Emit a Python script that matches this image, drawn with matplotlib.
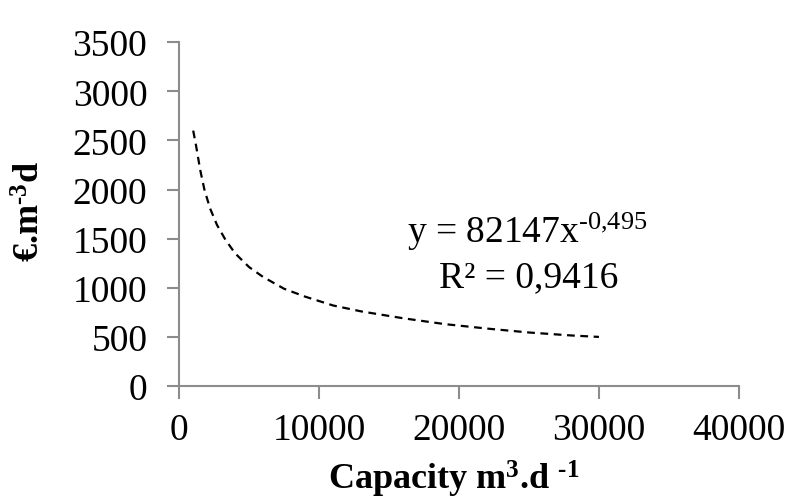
import matplotlib
matplotlib.use("Agg")
import matplotlib.pyplot as plt

plt.rcParams['font.family'] = ['Liberation Serif', 'DejaVu Serif']
plt.rcParams['mathtext.fontset'] = 'custom'
plt.rcParams['mathtext.rm'] = 'Liberation Serif'
plt.rcParams['mathtext.it'] = 'Liberation Serif'
plt.rcParams['mathtext.bf'] = 'Liberation Serif:bold'

# Trend-line values
capacity = [1000, 1200, 1500, 1800, 2200, 2700, 3300, 4000, 5000, 6000, 7500,
            9000, 11000, 13000, 16000, 19000, 22000, 25000, 28000, 30000]
cost = [2600, 2450, 2200, 2000, 1810, 1640, 1490, 1350, 1210, 1110, 990,
        910, 820, 760, 690, 630, 585, 545, 515, 500]

x_ticks = [0, 10000, 20000, 30000, 40000]
y_ticks = [0, 500, 1000, 1500, 2000, 2500, 3000, 3500]

equation = 'y = 82147x$^{\u20100{,}495}$'
r_squared = 'R² = 0,9416'

fig = plt.figure(figsize=(7.86, 5.02), dpi=100)
ax = fig.add_axes([0.228, 0.229, 0.712, 0.685])

ax.plot(capacity, cost, color='black', linestyle=(0, (3.5, 2.5)), linewidth=1.6)

ax.set_xlim(0, 40000)
ax.set_ylim(0, 3500)
ax.set_xticks(x_ticks)
ax.set_yticks(y_ticks)
ax.set_xticklabels([str(v) for v in x_ticks])
ax.set_yticklabels([str(v) for v in y_ticks])

for s in ['top', 'right']:
    ax.spines[s].set_visible(False)
for s in ['left', 'bottom']:
    ax.spines[s].set_color('#8c8c8c')
    ax.spines[s].set_linewidth(1.5)
ax.tick_params(axis='both', direction='out', length=9, width=1.5, color='#8c8c8c',
               labelsize=27)
ax.tick_params(axis='y', pad=14)
ax.tick_params(axis='x', pad=10)

ax.set_xlabel('Capacity m$^{\\mathbf{3}}$.d $^{\\mathbf{\u20101}}$', fontsize=26, fontweight='bold')
ax.set_ylabel('€.m$^{\\mathbf{\u20103}}$d', fontsize=26, fontweight='bold')
ax.xaxis.set_label_coords(0.49, -0.208)
ax.yaxis.set_label_coords(-0.234, 0.512)

ax.text(16300, 1465, equation, fontsize=27, ha='left', va='baseline')
ax.text(18600, 1017, r_squared, fontsize=27, ha='left', va='baseline')

fig.savefig('out.png', dpi=100)
